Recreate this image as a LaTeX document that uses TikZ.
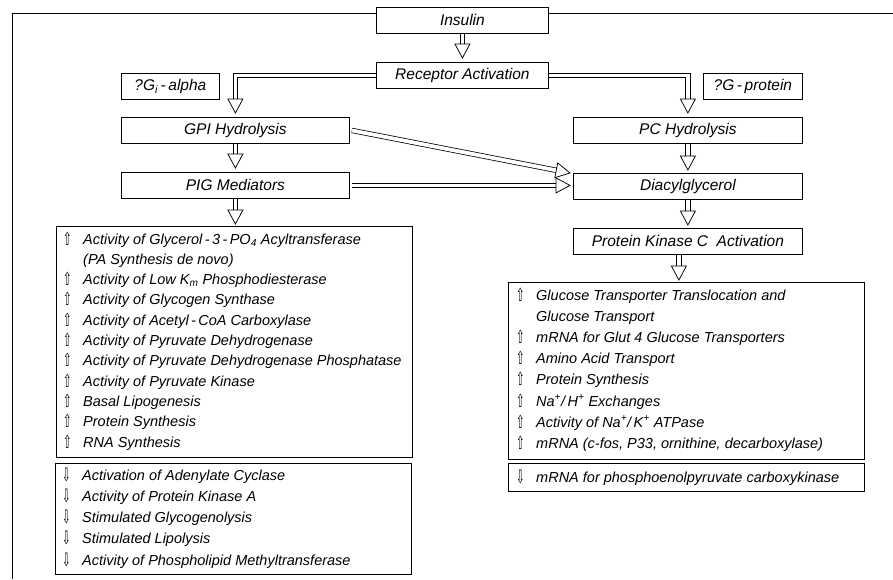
\documentclass[tikz,border=0pt]{standalone}
\usepackage{fontspec}
\setmainfont{Liberation Sans}
\newfontfamily\symf{DejaVu Sans}
\usepackage{graphicx}
\usetikzlibrary{calc}
\newcommand\upglyph{\makebox[20pt][l]{\raisebox{-1pt}{\symf\upshape\resizebox{8.5pt}{13.5pt}{⇧}}}}
\newcommand\dnglyph{\makebox[20pt][l]{\raisebox{-1pt}{\symf\upshape\resizebox{8.5pt}{13.5pt}{⇩}}}}
\newcommand\indentbox{\makebox[20pt][l]{}}
\newcommand\hhead[2]{%
  \coordinate (hb) at ($(#2)!14pt!(#1)$);
  \draw[headpoly] ($(hb)!7.5pt!90:(#2)$) -- (#2) -- ($(hb)!7.5pt!-90:(#2)$) -- cycle;}
\newcommand\harrow[2]{\draw[shaft] (#1) -- (#2); \hhead{#1}{#2}}
\begin{document}
\begin{tikzpicture}[x=1pt,y=-1pt,
  box/.style={draw, line width=0.8pt, fill=white, inner sep=0pt, anchor=north west,
              font=\fontsize{15.5}{18}\selectfont\itshape},
  listtext/.style={inner sep=0pt, anchor=base west},
  shaft/.style={line width=0.75pt, draw=black, double=white, double distance=3.8pt, shorten >=13pt},
  headpoly/.style={line width=0.75pt, draw=black, fill=white, line join=miter},
  frameline/.style={line width=0.8pt}]
\useasboundingbox (0,0) rectangle (893,579);
% frame
\coordinate (fa) at (893,13);
\coordinate (fb) at (12,13);
\coordinate (fc) at (12,579);
\draw[frameline] (fa) -- (fb) -- (fc);
% boxes
\node[box, minimum width=172pt, minimum height=26pt] (ins) at (376,7) {Insulin};
\node[box, minimum width=172pt, minimum height=26pt] (rec) at (376,62) {Receptor Activation};
\node[box, minimum width=98pt, minimum height=26pt] (gia) at (121,73) {?G\textsubscript{i}\,-\,alpha};
\node[box, minimum width=99pt, minimum height=26pt] (gpr) at (703,73) {?G\,-\,protein};
\node[box, minimum width=228pt, minimum height=26pt] (gpi) at (121,117) {GPI Hydrolysis};
\node[box, minimum width=228pt, minimum height=26pt] (pig) at (121,172) {PIG Mediators};
\node[box, minimum width=229pt, minimum height=26pt] (pch) at (573,117) {PC Hydrolysis};
\node[box, minimum width=229pt, minimum height=26pt] (dag) at (573,173) {Diacylglycerol};
\node[box, minimum width=229pt, minimum height=26pt] (pkc) at (573,228) {Protein Kinase C\ \ Activation};
\node[box, minimum width=356pt, minimum height=231pt] (lup) at (56,226) {};
\node[box, minimum width=356pt, minimum height=111pt] (ldn) at (55,463) {};
\node[box, minimum width=356pt, minimum height=177pt] (rup) at (508,282) {};
\node[box, minimum width=356pt, minimum height=28pt] (rdn) at (508,463) {};
% list texts
\node[listtext, font=\fontsize{14.5}{20.3}\selectfont\itshape] (lupt) at (63,244) {%
\begin{tabular}[t]{@{}l@{}}
\upglyph Activity of Glycerol\,-\,3\,-\,PO\textsubscript{4} Acyltransferase\\
\indentbox (PA Synthesis de novo)\\
\upglyph Activity of Low K\textsubscript{m} Phosphodiesterase\\
\upglyph Activity of Glycogen Synthase\\
\upglyph Activity of Acetyl\,-\,CoA Carboxylase\\
\upglyph Activity of Pyruvate Dehydrogenase\\
\upglyph Activity of Pyruvate Dehydrogenase Phosphatase\\
\upglyph Activity of Pyruvate Kinase\\
\upglyph Basal Lipogenesis\\
\upglyph Protein Synthesis\\
\upglyph RNA Synthesis
\end{tabular}};
\node[listtext, font=\fontsize{14.5}{21.25}\selectfont\itshape] (ldnt) at (62,480) {%
\begin{tabular}[t]{@{}l@{}}
\dnglyph Activation of Adenylate Cyclase\\
\dnglyph Activity of Protein Kinase A\\
\dnglyph Stimulated Glycogenolysis\\
\dnglyph Stimulated Lipolysis\\
\dnglyph Activity of Phospholipid Methyltransferase
\end{tabular}};
\node[listtext, font=\fontsize{14.5}{21.2}\selectfont\itshape] (rupt) at (516,300) {%
\begin{tabular}[t]{@{}l@{}}
\upglyph Glucose Transporter Translocation and\\
\indentbox Glucose Transport\\
\upglyph mRNA for Glut 4 Glucose Transporters\\
\upglyph Amino Acid Transport\\
\upglyph Protein Synthesis\\
\upglyph Na\textsuperscript{+}/\,H\textsuperscript{+} Exchanges\\
\upglyph Activity of Na\textsuperscript{+}/\,K\textsuperscript{+} ATPase\\
\upglyph mRNA (c-fos, P33, ornithine, decarboxylase)
\end{tabular}};
\node[listtext, font=\fontsize{14.5}{21.2}\selectfont\itshape] (rdnt) at (516,482) {%
\begin{tabular}[t]{@{}l@{}}
\dnglyph mRNA for phosphoenolpyruvate carboxykinase
\end{tabular}};
% arrow end points
\coordinate (a1) at (ins.south);
\coordinate (b1) at ($(rec.north)+(0,-4)$);
\coordinate (b2) at ($(gpi.north)+(0,-4)$);
\coordinate (c2) at ($(b2)+(0,-20)$);
\coordinate (b3) at ($(pch.north)+(0,-4)$);
\coordinate (c3) at ($(b3)+(0,-20)$);
\coordinate (a4) at (gpi.south);
\coordinate (b4) at ($(pig.north)+(0,-4)$);
\coordinate (a6) at ($(gpi.east)+(2,0)$);
\coordinate (b6) at ($(dag.north west)+(-3,0)$);
\coordinate (a7) at ($(pig.east)+(2,0)$);
\coordinate (b7) at ($(dag.west |- pig.east)+(-3,0)$);
\coordinate (a8) at (pch.south);
\coordinate (b8) at ($(dag.north)+(0,-3)$);
\coordinate (a9) at (dag.south);
\coordinate (b9) at ($(pkc.north)+(0,-3)$);
\coordinate (a10) at ($(pkc.south)+(-9,0)$);
\coordinate (b10) at ($(a10 |- rup.north)+(0,-2)$);
\coordinate (a11) at (pig.south);
\coordinate (b11) at ($(a11 |- lup.north)+(0,-2)$);
% arrows
\harrow{a1}{b1}
\draw[shaft] (rec.west) -| (b2);
\hhead{c2}{b2}
\draw[shaft] (rec.east) -| (b3);
\hhead{c3}{b3}
\harrow{a4}{b4}
\harrow{a11}{b11}
\harrow{a6}{b6}
\harrow{a7}{b7}
\harrow{a8}{b8}
\harrow{a9}{b9}
\harrow{a10}{b10}
\end{tikzpicture}
\end{document}
